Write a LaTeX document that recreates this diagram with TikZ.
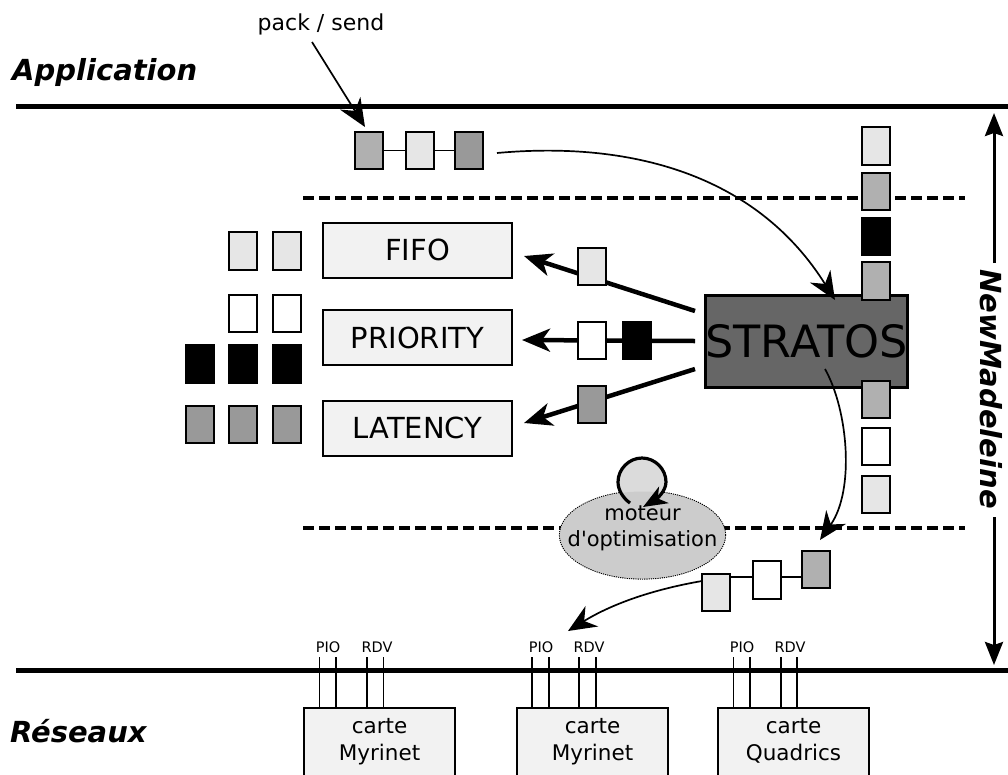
\documentclass[tikz,border=0pt]{standalone}
\usepackage{fontspec}
\setmainfont{DejaVu Sans}
\newfontfamily\plainfont{DejaVu Sans}
\usetikzlibrary{arrows.meta,backgrounds,shapes.geometric}
\newcommand{\fsz}[1]{\fontsize{#1}{#1}\selectfont}
\definecolor{cA}{HTML}{E6E6E6}
\definecolor{cB}{HTML}{B0B0B0}
\definecolor{cC}{HTML}{999999}
\definecolor{cBox}{HTML}{F2F2F2}
\tikzset{
  x=1pt,y=-1pt,
  tok/.style={draw=black,line width=2pt,minimum width=28pt,minimum height=37.5pt,inner sep=0pt,outer sep=0pt},
  tokA/.style={tok,fill=cA},
  tokB/.style={tok,fill=cB},
  tokC/.style={tok,fill=cC},
  tokW/.style={tok,fill=white},
  tokK/.style={tok,fill=black},
  sched/.style={draw=black,line width=2pt,fill=cBox,minimum width=189pt,minimum height=55pt,inner sep=0pt,font=\fsz{29}},
  card/.style={draw=black,line width=2pt,fill=cBox,minimum width=151pt,minimum height=90pt,inner sep=0pt,anchor=north},
  cardtxt/.style={align=center,font=\fsz{21.5},inner sep=0pt,anchor=north},
  layerline/.style={line width=4pt,dash pattern=on 11pt off 5pt},
  thinarrow/.style={line width=1.7pt,-{Stealth[length=28pt,width=24pt,inset=9pt]}},
  thickarrow/.style={line width=4.5pt,-{Stealth[length=28pt,width=23pt,inset=8pt]}},
  extarrow/.style={line width=3pt,-{Stealth[length=23pt,width=18pt,inset=3pt]}},
  pin/.style={line width=1.6pt},
  pintxt/.style={font=\fsz{14.5},inner sep=0pt},
  head/.style={font=\fsz{29}\bfseries\itshape,inner sep=0pt,anchor=west},
}
\begin{document}
\begin{tikzpicture}
\useasboundingbox (0,0) rectangle (1008,774);
\clip (0,0) rectangle (1008,774);

% rails
\coordinate (railTL) at (16,106); \coordinate (railTR) at (1008,106);
\coordinate (railBL) at (16,670); \coordinate (railBR) at (1008,670);
\draw[line width=5pt] (railTL) -- (railTR);
\draw[line width=5pt] (railBL) -- (railBR);
\coordinate (dashAL) at (303,198); \coordinate (dashAR) at (965,198);
\coordinate (dashBL) at (303,528); \coordinate (dashBR) at (965,528);
\draw[layerline] (dashAL) -- (dashAR);
\draw[layerline] (dashBL) -- (dashBR);

% headings
\node[head] (app) at (12,72) {Application};
\node[head] (res) at (10,731) {Réseaux};
\node[font=\fsz{22},inner sep=0pt] (pack) at (321,24) {pack / send};

% top queue
\node[tokB] (t1) at (368.5,150.5) {};
\node[tokA] (t2) at (420,150.5) {};
\node[tokC] (t3) at (468.5,150.5) {};

% schedulers
\node[sched] (fifo) at (417.5,250) {FIFO};
\node[sched] (prio) at (417.5,337.5) {PRIORITY};
\node[sched] (lat) at (417.5,428) {LATENCY};

% waiting tokens
\node[tokA] (f1) at (243,251) {};
\node[tokA] (f2) at (287,251) {};
\node[tokW] (w1) at (243,313.5) {};
\node[tokW] (w2) at (287,313.5) {};
\node[tokK] (k0) at (199.5,364) {};
\node[tokK] (k1) at (243,364) {};
\node[tokK] (k2) at (287,364) {};
\node[tokC] (g0) at (199.5,424.5) {};
\node[tokC] (g1) at (243,424.5) {};
\node[tokC] (g2) at (287,424.5) {};

% STRATOS
\node[draw=black,line width=2.5pt,fill=black!60,minimum width=202pt,minimum height=92pt,inner sep=0pt,font=\fsz{44.5}] (strat) at (806.5,341.5) {STRATOS};

% right stack
\node[tokA] (s1) at (876,146) {};
\node[tokB] (s2) at (876,191.5) {};
\node[tokK] (s3) at (876,236.5) {};
\node[tokB] (s4) at (876,281) {};
\node[tokB] (s5) at (876,399.5) {};
\node[tokW] (s6) at (876,446.5) {};
\node[tokA] (s7) at (876,494.5) {};

% tokens on the thick arrows
\node[tokA] (m1) at (592,266.5) {};
\node[tokW] (m2) at (592,340.5) {};
\node[tokK] (m3) at (636.5,340.5) {};
\node[tokC] (m4) at (592,404.5) {};

% optimiser
\node[draw=black,densely dotted,line width=1.2pt,fill=black!20,ellipse,minimum width=166pt,minimum height=88pt,inner sep=0pt] (opt) at (642.5,535) {};
\fill[black!14] (642,482) circle (23);
\fill[black!20] (opt.center) ellipse (82.5 and 43.5);
\node[align=center,font=\plainfont\fsz{21},inner sep=0pt] (opttxt) at (642.5,528.5) {moteur\\[5.5pt]d'optimisation};
\coordinate (loopS) at (630,503);
\coordinate (loopE) at (643,507);
\draw[line width=3.2pt,-{Stealth[length=24pt,width=19pt,inset=7pt]}]
  (loopS) .. controls (623,498) and (618,490) .. (618,482)
  .. controls (618,469) and (629,458) .. (642,458)
  .. controls (655,458) and (666,469) .. (666,482)
  .. controls (666,492) and (655,500) .. (loopE);

% lower queue
\node[tokA] (b1) at (716,592.5) {};
\node[tokW] (b2) at (767,580) {};
\node[tokB] (b3) at (816,569.5) {};

% cards
\node[card] (c1) at (379.5,707) {};
\node[card] (c2) at (592.5,707) {};
\node[card] (c3) at (793.5,707) {};
\node[cardtxt] (c1t) at (379.5,718) {carte\\[6pt]Myrinet};
\node[cardtxt] (c2t) at (592.5,718) {carte\\[6pt]Myrinet};
\node[cardtxt] (c3t) at (793.5,718) {carte\\[6pt]Quadrics};

% pin labels
\node[pintxt] (pa) at (328,647) {PIO};
\node[pintxt] (ra) at (377,647) {RDV};
\node[pintxt] (pb) at (541,647) {PIO};
\node[pintxt] (rb) at (589,647) {RDV};
\node[pintxt] (pc) at (742,647) {PIO};
\node[pintxt] (rc) at (790,647) {RDV};

% NewMadeleine
\node[font=\fsz{29}\bfseries\itshape,rotate=-90,inner sep=0pt] (nm) at (991,389) {NewMadeleine};

\coordinate (lq) at (0,577);
\begin{pgfonlayer}{background}
  \draw[line width=1.5pt] (t1) -- (t2);
  \draw[line width=1.5pt] (t2) -- (t3);
  \draw[line width=1.5pt] (b1.east |- lq) -- (b2.west |- lq);
  \draw[line width=1.5pt] (b2.east |- lq) -- (b3.west |- lq);
\end{pgfonlayer}

% connectors
\coordinate (packS) at (312,42);
\coordinate (packE) at (365,127);
\draw[thinarrow] (packS) -- (packE);
\coordinate (topS) at (497,153);
\coordinate (topE) at (835,300);
\draw[thinarrow] (topS) .. controls (640,140) and (760,180) .. (topE);
\coordinate (downS) at (825,369);
\coordinate (downE) at (820,540);
\draw[thinarrow] (downS) .. controls (848,410) and (855,490) .. (downE);
\coordinate (b1L) at (702,581);
\coordinate (pioE) at (568,631);
\draw[thinarrow] (b1L) .. controls (650,590) and (610,605) .. (pioE);

\coordinate (sf) at (695,311); \coordinate (sp) at (695,341); \coordinate (sl) at (695,369);
\coordinate (ef) at (524,256); \coordinate (ep) at (522,340); \coordinate (el) at (524,423);
\begin{pgfonlayer}{background}
  \draw[thickarrow] (sf) -- (ef);
  \draw[thickarrow] (sp) -- (ep);
  \draw[thickarrow] (sl) -- (el);
\end{pgfonlayer}

% pins
\foreach \n/\x in {a/319.5,b/336,c/367,d/383.5,e/532,f/549,g/579,h/596,i/733.5,j/750,k/781,l/797}{
  \coordinate (pt\n) at (\x,657);
  \coordinate (pq\n) at (\x,707);
  \draw[pin] (pt\n) -- (pq\n);
}

% extent arrow
\coordinate (nmT) at (994,113);
\coordinate (nmB) at (994,665);
\coordinate (nmA) at (994,263);
\coordinate (nmC) at (994,517);
\draw[extarrow] (nmA) -- (nmT);
\draw[extarrow] (nmC) -- (nmB);
\end{tikzpicture}
\end{document}
